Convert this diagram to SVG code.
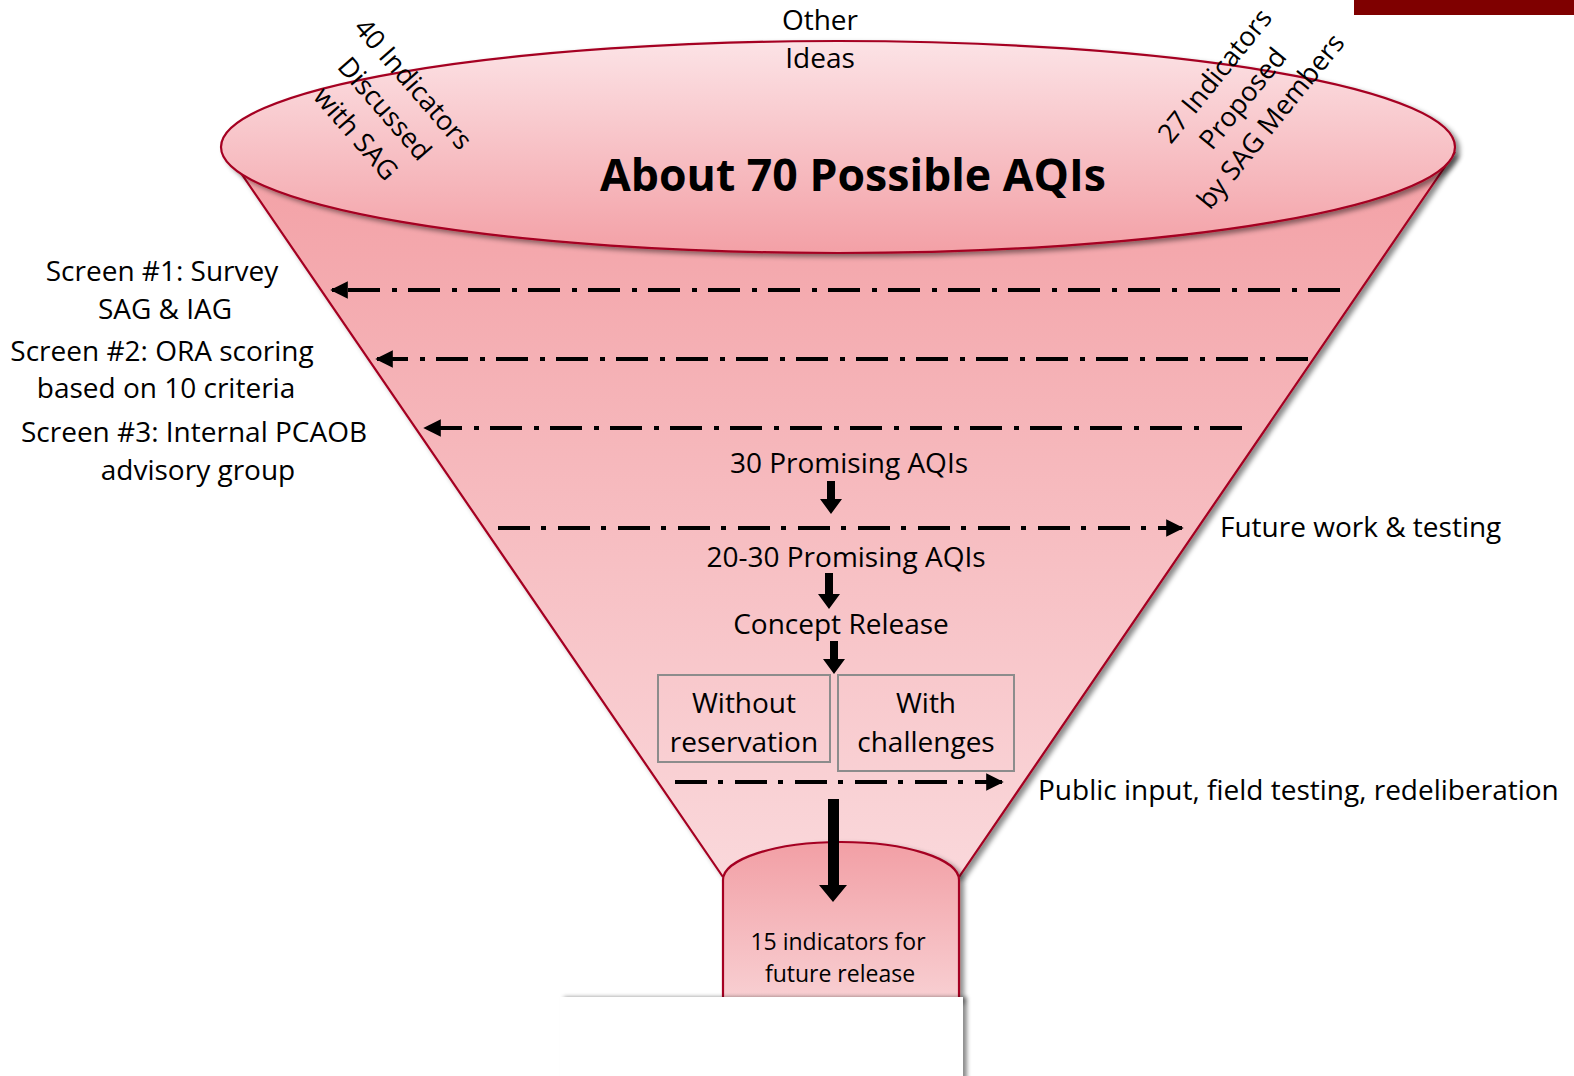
<svg xmlns="http://www.w3.org/2000/svg" width="1574" height="1076" viewBox="0 0 1574 1076">
  <style>
    .t { font-family: "Open Sans", "Liberation Sans", sans-serif; font-size: 28px; fill: #000; }
    .r { font-size: 27px; }
    .c { text-anchor: middle; }
    .title { font-family: "Open Sans", "Liberation Sans", sans-serif; font-size: 44px; font-weight: bold; fill: #000; text-anchor: middle; }
    .small { font-family: "Open Sans", "Liberation Sans", sans-serif; font-size: 23px; fill: #000; text-anchor: middle; }
    .dd { stroke: #000; stroke-width: 4; fill: none; stroke-dasharray: 32 11 5 12; }
    .edge { stroke: #a50021; stroke-width: 2.2; }
    .box { fill: none; stroke: #8c8c8c; stroke-width: 2; }
  </style>
  <defs>
    <linearGradient id="gTop" x1="0" y1="0" x2="0" y2="1">
      <stop offset="0" stop-color="#fce3e6"/>
      <stop offset="1" stop-color="#f3a0a6"/>
    </linearGradient>
    <linearGradient id="gCone" gradientUnits="userSpaceOnUse" x1="0" y1="150" x2="0" y2="877">
      <stop offset="0" stop-color="#f3a0a5"/>
      <stop offset="1" stop-color="#fad8db"/>
    </linearGradient>
    <linearGradient id="gCyl" gradientUnits="userSpaceOnUse" x1="0" y1="842" x2="0" y2="1000">
      <stop offset="0" stop-color="#f29fa5"/>
      <stop offset="1" stop-color="#f8cfd2"/>
    </linearGradient>
    <filter id="sh" x="-5%" y="-5%" width="115%" height="115%">
      <feDropShadow dx="4" dy="3" stdDeviation="2.5" flood-color="#000" flood-opacity="0.45"/>
    </filter>
    <filter id="shR" x="-5%" y="-5%" width="115%" height="115%">
      <feDropShadow dx="4" dy="0" stdDeviation="2" flood-color="#000" flood-opacity="0.45"/>
    </filter>
    <marker id="ah" viewBox="0 0 10 10" refX="9" refY="5" markerWidth="4.4" markerHeight="4.4" orient="auto-start-reverse" markerUnits="strokeWidth">
      <path d="M0,0 L10,5 L0,10 Z" fill="#000"/>
    </marker>
  </defs>

  <!-- corner banner -->
  <rect x="1354" y="0" width="220" height="15" fill="#7f0000"/>

  <!-- funnel body -->
  <g id="funnel" filter="url(#sh)">
    <path d="M232,160 L723,877 L959,877 L1455,152 Z" fill="url(#gCone)"/>
    <path class="edge" fill="none" d="M232,160 L723,877 M959,877 L1455,152"/>
  </g>

  <!-- funnel mouth -->
  <g id="mouth" filter="url(#sh)">
    <ellipse class="edge" cx="838" cy="147" rx="617" ry="106" fill="url(#gTop)"/>
  </g>

  <!-- funnel spout -->
  <g id="spout" filter="url(#sh)">
    <path class="edge" d="M723,1000 V880 A118,38 0 0 1 959,880 V1000 Z" fill="url(#gCyl)"/>
  </g>

  <!-- mouth labels -->
  <g id="n-title">
    <text class="title" x="853" y="191" textLength="506" lengthAdjust="spacingAndGlyphs">About 70 Possible AQIs</text>
  </g>
  <g id="n-other">
    <text class="t c" x="820" y="30">Other</text>
    <text class="t c" x="820" y="68">Ideas</text>
  </g>
  <g id="n-40" transform="translate(413,84) rotate(49)">
    <text class="t r c" x="0" y="9">40 Indicators</text>
    <text class="t r c" x="0" y="47">Discussed</text>
    <text class="t r c" x="0" y="85">with SAG</text>
  </g>
  <g id="n-27" transform="translate(1215,76) rotate(-51)">
    <text class="t r c" x="0" y="9">27 Indicators</text>
    <text class="t r c" x="0" y="45">Proposed</text>
    <text class="t r c" x="0" y="81">by SAG Members</text>
  </g>

  <!-- screening labels -->
  <g id="n-screen1">
    <text class="t c" x="162" y="281">Screen #1: Survey</text>
    <text class="t c" x="165" y="319">SAG &amp; IAG</text>
  </g>
  <g id="n-screen2">
    <text class="t c" x="162" y="361">Screen #2: ORA scoring</text>
    <text class="t c" x="166" y="398">based on 10 criteria</text>
  </g>
  <g id="n-screen3">
    <text class="t c" x="194" y="442">Screen #3: Internal PCAOB</text>
    <text class="t c" x="198" y="480">advisory group</text>
  </g>

  <!-- stages -->
  <g id="n-30">
    <text class="t c" x="849" y="473">30 Promising AQIs</text>
  </g>
  <g id="n-2030">
    <text class="t c" x="846" y="567">20-30 Promising AQIs</text>
  </g>
  <g id="n-concept">
    <text class="t c" x="841" y="634">Concept Release</text>
  </g>
  <g id="n-without">
    <rect class="box" x="658" y="675" width="172" height="87"/>
    <text class="t c" x="744" y="713">Without</text>
    <text class="t c" x="744" y="752">reservation</text>
  </g>
  <g id="n-with">
    <rect class="box" x="838" y="675" width="176" height="96"/>
    <text class="t c" x="926" y="713">With</text>
    <text class="t c" x="926" y="752">challenges</text>
  </g>
  <g id="n-future">
    <text class="t" x="1220" y="537">Future work &amp; testing</text>
  </g>
  <g id="n-public">
    <text class="t" x="1038" y="800">Public input, field testing, redeliberation</text>
  </g>
  <g id="n-15">
    <text class="small" x="838" y="950">15 indicators for</text>
    <text class="small" x="840" y="982">future release</text>
  </g>

  <!-- connectors -->
  <g id="connectors">
    <path class="dd" d="M1340,290 H332" marker-end="url(#ah)"/>
    <path class="dd" d="M1308,359 H377" marker-end="url(#ah)"/>
    <path class="dd" d="M1242,428 H425" marker-end="url(#ah)"/>
    <path class="dd" d="M498,528 H1182" marker-end="url(#ah)"/>
    <path class="dd" d="M675,782 H1002" marker-end="url(#ah)"/>
    <!-- downward flow arrows -->
    <path d="M827,481 H835 V499 H842 L831,514 L820,499 H827 Z" fill="#000"/>
    <path d="M825,573 H833 V594 H840 L829,609 L818,594 H825 Z" fill="#000"/>
    <path d="M830,641 H838 V659 H845 L834,674 L823,659 H830 Z" fill="#000"/>
    <path d="M828,799 H839 V885 H847 L833,902 L819,885 H828 Z" fill="#000"/>
  </g>

  <!-- cover panel over spout base -->
  <g id="cover" filter="url(#shR)">
    <rect x="560" y="997" width="403" height="85" fill="#fff"/>
  </g>
</svg>
